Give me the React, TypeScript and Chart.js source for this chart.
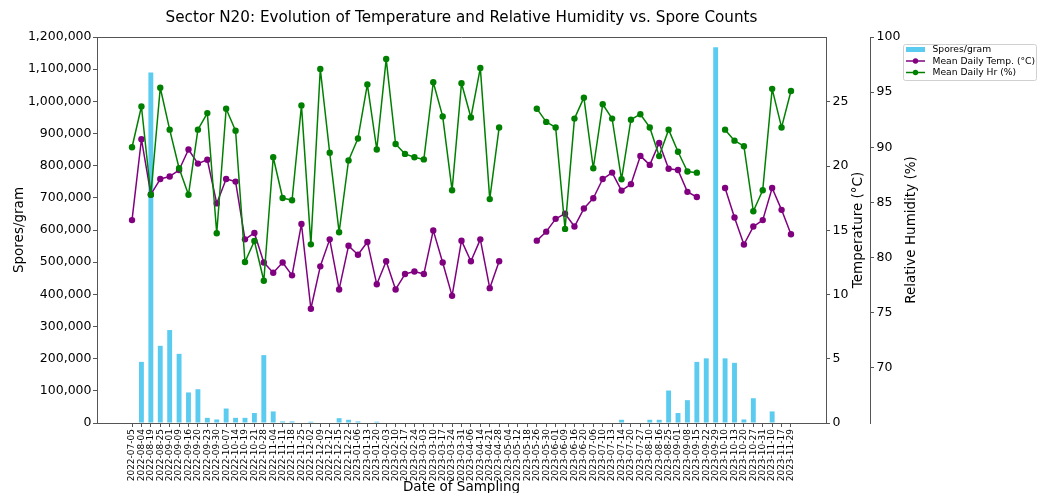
import React, { useEffect, useRef } from 'react';
import { Chart, registerables } from 'chart.js';

Chart.register(...registerables);

const dates = [
  '2022-07-05', '2022-08-04', '2022-08-19', '2022-08-25', '2022-09-01', '2022-09-09', '2022-09-16', '2022-09-20',
  '2022-09-23', '2022-09-30', '2022-10-07', '2022-10-14', '2022-10-19', '2022-10-21', '2022-10-28', '2022-11-04',
  '2022-11-11', '2022-11-18', '2022-11-25', '2022-12-02', '2022-12-09', '2022-12-12', '2022-12-15', '2022-12-22',
  '2023-01-06', '2023-01-13', '2023-01-20', '2023-02-03', '2023-02-10', '2023-02-17', '2023-02-24', '2023-03-03',
  '2023-03-10', '2023-03-17', '2023-03-24', '2023-03-31', '2023-04-06', '2023-04-14', '2023-04-21', '2023-04-28',
  '2023-05-04', '2023-05-12', '2023-05-18', '2023-05-26', '2023-05-30', '2023-06-01', '2023-06-09', '2023-06-16',
  '2023-06-20', '2023-07-06', '2023-07-10', '2023-07-13', '2023-07-14', '2023-07-20', '2023-07-27', '2023-08-10',
  '2023-08-16', '2023-08-25', '2023-09-01', '2023-09-08', '2023-09-15', '2023-09-22', '2023-09-29', '2023-10-10',
  '2023-10-13', '2023-10-20', '2023-10-27', '2023-10-31', '2023-11-10', '2023-11-17', '2023-11-29',
];

const spores = [
  0, 190000, 1090000, 240000, 289000, 215000, 95000, 105000,
  16000, 11000, 45000, 16000, 16000, 31000, 211000, 36000,
  5000, 5000, 0, 4000, 0, 0, 15000, 10000,
  5000, 0, 4000, 0, 0, 0, 0, 0,
  0, 0, 0, 0, 0, 0, 0, 0,
  0, 0, 0, 0, 0, 0, 0, 0,
  0, 0, 0, 0, 10000, 0, 0, 10000,
  10000, 101000, 31000, 71000, 190000, 201000, 1168000, 201000,
  187000, 11000, 77000, 0, 36000, 0, 0,
];

const temperature = [
  15.8, 22.1, 17.8, 19.0, 19.2, 19.7, 21.3, 20.2,
  20.5, 17.1, 19.0, 18.8, 14.3, 14.8, 12.5, 11.7,
  12.5, 11.5, 15.5, 8.9, 12.2, 14.3, 10.4, 13.8,
  13.1, 14.1, 10.8, 12.6, 10.4, 11.6, 11.8, 11.6,
  15.0, 12.5, 9.9, 14.2, 12.6, 14.3, 10.5, 12.6,
  null, null, null, 14.2, 14.9, 15.9, 16.3, 15.3,
  16.7, 17.5, 19.0, 19.5, 18.1, 18.6, 20.8, 20.1,
  21.8, 19.8, 19.7, 18.0, 17.6, null, null, 18.3,
  16.0, 13.9, 15.3, 15.8, 18.3, 16.6, 14.7,
];

const humidity = [
  90.0, 93.7, 85.7, 95.4, 91.6, 88.1, 85.7, 91.6,
  93.1, 82.2, 93.5, 91.5, 79.6, 81.5, 77.9, 89.1,
  85.4, 85.2, 93.8, 81.2, 97.1, 89.5, 82.3, 88.8,
  90.8, 95.7, 89.8, 98.0, 90.3, 89.4, 89.1, 88.9,
  95.9, 92.8, 86.1, 95.8, 92.7, 97.2, 85.3, 91.8,
  null, null, null, 93.5, 92.3, 91.8, 82.6, 92.6,
  94.5, 88.1, 93.9, 92.6, 87.1, 92.5, 93.0, 91.8,
  89.2, 91.6, 89.6, 87.8, 87.7, null, null, 91.6,
  90.6, 90.1, 84.2, 86.1, 95.3, 91.8, 95.1,
];

const sporeTicks = [0, 100000, 200000, 300000, 400000, 500000, 600000, 700000, 800000, 900000, 1000000, 1100000, 1200000];
const tempTicks = [0, 5, 10, 15, 20, 25];
const humTicks = [70, 75, 80, 85, 90, 95, 100];

const TITLE = 'Sector N20: Evolution of Temperature and Relative Humidity vs. Spore Counts';
const X_TITLE = 'Date of Sampling';
const Y_TITLE = 'Spores/gram';
const T_TITLE = 'Temperature (°C)';
const H_TITLE = 'Relative Humidity (%)';
const SERIES_NAMES = ['Spores/gram', 'Mean Daily Temp. (°C)', 'Mean Daily Hr (%)'];

const BAR_COLOR = '#5BCCF0';
const TEMP_COLOR = '#800080';
const HUM_COLOR = '#008000';
const FRAME = '#555555';
const FONT = '"DejaVu Sans", "Liberation Sans", sans-serif';

const toXY = (arr: (number | null)[]) => arr.map((v, i) => ({ x: i, y: v }));

const overlayPlugin = {
  id: 'overlay',
  afterDraw(chart: any) {
    const { ctx, chartArea: ca, scales } = chart;
    ctx.save();
    // top frame line
    ctx.strokeStyle = FRAME;
    ctx.lineWidth = 1;
    ctx.beginPath();
    ctx.moveTo(ca.left, Math.round(ca.top) + 0.5);
    ctx.lineTo(ca.right, Math.round(ca.top) + 0.5);
    ctx.stroke();

    // title
    ctx.fillStyle = '#000';
    ctx.textAlign = 'center';
    ctx.textBaseline = 'middle';
    ctx.font = `15.2px ${FONT}`;
    ctx.fillText(TITLE, (ca.left + ca.right) / 2, 18);

    // right axis titles (rotated bottom-to-top)
    const cy = (ca.top + ca.bottom) / 2;
    ctx.font = `13.5px ${FONT}`;
    const drawRot = (text: string, x: number) => {
      ctx.save();
      ctx.translate(x, cy);
      ctx.rotate(-Math.PI / 2);
      ctx.fillText(text, 0, 0);
      ctx.restore();
    };
    drawRot(T_TITLE, scales.yT.left + 32);
    drawRot(H_TITLE, scales.yH.left + 41);

    // legend
    const lx = 903.5, ly = 44.5, lw = 133, lh = 36;
    ctx.beginPath();
    ctx.roundRect(lx, ly, lw, lh, 2);
    ctx.fillStyle = 'rgba(255,255,255,0.8)';
    ctx.fill();
    ctx.strokeStyle = '#d0d0d0';
    ctx.lineWidth = 1;
    ctx.stroke();
    const rows = [49.5, 61, 72.5];
    const colors = [BAR_COLOR, TEMP_COLOR, HUM_COLOR];
    ctx.font = `9.2px ${FONT}`;
    ctx.textAlign = 'left';
    ctx.textBaseline = 'middle';
    rows.forEach((ry, k) => {
      if (k === 0) {
        ctx.fillStyle = colors[k];
        ctx.fillRect(906, ry - 2.5, 19, 5);
      } else {
        ctx.strokeStyle = colors[k];
        ctx.lineWidth = 1.5;
        ctx.beginPath();
        ctx.moveTo(906, ry);
        ctx.lineTo(925, ry);
        ctx.stroke();
        ctx.fillStyle = colors[k];
        ctx.beginPath();
        ctx.arc(915.5, ry, 2.7, 0, Math.PI * 2);
        ctx.fill();
      }
      ctx.fillStyle = '#000';
      ctx.fillText(SERIES_NAMES[k], 932.5, ry + 0.5);
    });
    ctx.restore();
  },
};

const tickGrid = {
  display: true,
  drawOnChartArea: false,
  drawTicks: true,
  tickLength: 4,
  color: FRAME,
  lineWidth: 1,
  offset: false,
};

export default function App() {
  const ref = useRef<HTMLCanvasElement>(null);

  useEffect(() => {
    const chart = new Chart(ref.current as HTMLCanvasElement, {
      type: 'bar',
      data: {
        datasets: [
          {
            type: 'line',
            label: SERIES_NAMES[2],
            data: toXY(humidity),
            xAxisID: 'x',
            yAxisID: 'yH',
            borderColor: HUM_COLOR,
            backgroundColor: HUM_COLOR,
            borderWidth: 1.5,
            borderJoinStyle: 'round',
            pointRadius: 3.2,
            pointBorderWidth: 0,
            pointBackgroundColor: HUM_COLOR,
            spanGaps: false,
            order: 1,
          } as any,
          {
            type: 'line',
            label: SERIES_NAMES[1],
            data: toXY(temperature),
            xAxisID: 'x',
            yAxisID: 'yT',
            borderColor: TEMP_COLOR,
            backgroundColor: TEMP_COLOR,
            borderWidth: 1.5,
            borderJoinStyle: 'round',
            pointRadius: 3.2,
            pointBorderWidth: 0,
            pointBackgroundColor: TEMP_COLOR,
            spanGaps: false,
            order: 2,
          } as any,
          {
            type: 'bar',
            label: SERIES_NAMES[0],
            data: toXY(spores),
            xAxisID: 'x',
            yAxisID: 'y',
            backgroundColor: BAR_COLOR,
            borderWidth: 0,
            categoryPercentage: 1,
            barPercentage: 0.52,
            order: 3,
          } as any,
        ],
      },
      options: {
        responsive: false,
        animation: false,
        devicePixelRatio: 1,
        layout: { padding: { left: 0, right: 116, top: 37, bottom: 0 } },
        plugins: {
          legend: { display: false },
          title: { display: false },
          tooltip: { enabled: false },
        },
        scales: {
          x: {
            type: 'linear',
            position: 'bottom',
            min: -3.72,
            max: 73.72,
            offset: false,
            afterBuildTicks: (scale: any) => {
              scale.ticks = dates.map((_, i) => ({ value: i }));
            },
            afterFit: (scale: any) => {
              scale.height = 70;
            },
            ticks: {
              autoSkip: false,
              maxRotation: 90,
              minRotation: 90,
              padding: 2,
              color: '#000',
              font: { family: FONT, size: 9 },
              callback: (v: any) => dates[v] ?? '',
            },
            grid: tickGrid,
            border: { display: true, color: FRAME, width: 1 },
            title: {
              display: true,
              text: X_TITLE,
              color: '#000',
              font: { family: FONT, size: 13.5 },
              padding: { top: 0, bottom: -3 },
            },
          },
          y: {
            type: 'linear',
            position: 'left',
            min: 0,
            max: 1200000,
            afterBuildTicks: (scale: any) => {
              scale.ticks = sporeTicks.map((v) => ({ value: v }));
            },
            afterFit: (scale: any) => {
              scale.width = 97;
            },
            ticks: {
              padding: 1.5,
              color: '#000',
              font: { family: FONT, size: 12.5 },
              callback: (v: any) => Number(v).toLocaleString('en-US'),
            },
            grid: tickGrid,
            border: { display: true, color: FRAME, width: 1 },
            title: {
              display: true,
              text: Y_TITLE,
              color: '#000',
              font: { family: FONT, size: 13.5 },
              padding: { top: 11, bottom: 0 },
            },
          },
          yT: {
            type: 'linear',
            position: 'right',
            weight: 0,
            min: 0,
            max: 30.06,
            afterBuildTicks: (scale: any) => {
              scale.ticks = tempTicks.map((v) => ({ value: v }));
            },
            afterFit: (scale: any) => {
              scale.width = 44;
            },
            ticks: {
              padding: 2.5,
              color: '#000',
              font: { family: FONT, size: 12.5 },
            },
            grid: tickGrid,
            border: { display: true, color: FRAME, width: 1 },
          },
          yH: {
            type: 'linear',
            position: 'right',
            weight: 1,
            min: 65,
            max: 100,
            afterBuildTicks: (scale: any) => {
              scale.ticks = humTicks.map((v) => ({ value: v }));
            },
            afterFit: (scale: any) => {
              scale.width = 60;
            },
            ticks: {
              padding: 2.5,
              color: '#000',
              font: { family: FONT, size: 12.5 },
            },
            grid: tickGrid,
            border: { display: true, color: FRAME, width: 1 },
          },
        } as any,
      },
      plugins: [overlayPlugin],
    } as any);
    return () => chart.destroy();
  }, []);

  return (
    <div style={{ position: 'fixed', left: 0, top: 0, width: 1046, height: 493, background: '#fff' }}>
      <canvas ref={ref} width={1046} height={493} style={{ display: 'block' }} />
    </div>
  );
}
